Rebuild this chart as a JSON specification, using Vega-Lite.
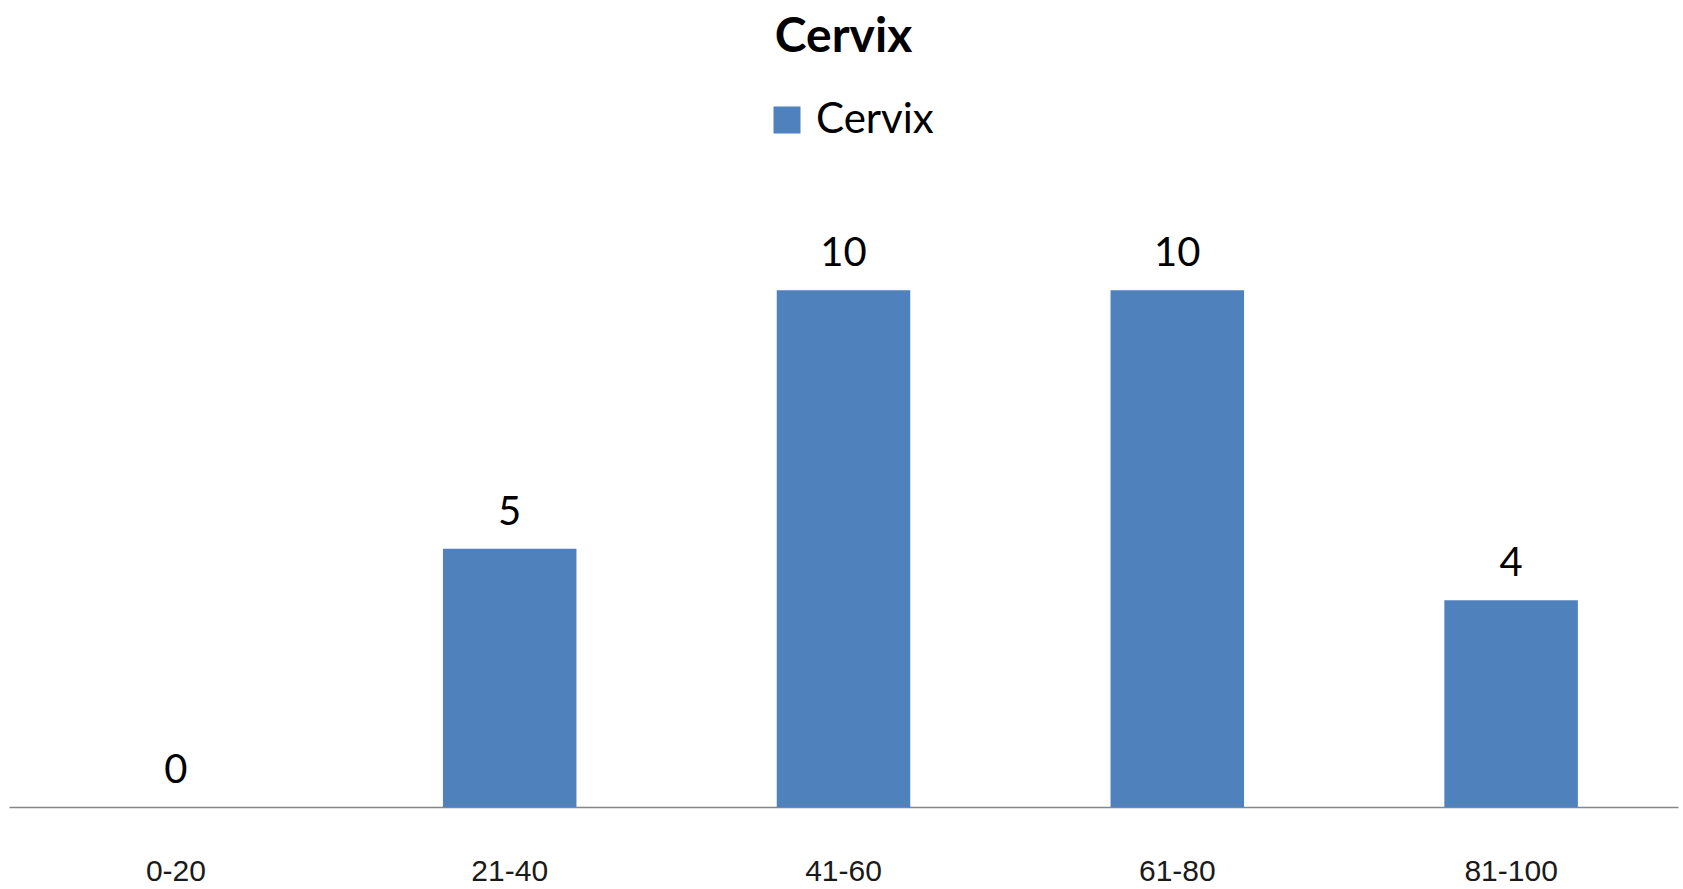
{
  "$schema": "https://vega.github.io/schema/vega-lite/v6.json",
  "autosize": "none",
  "width": 1669,
  "height": 620,
  "padding": {"left": 9, "top": 187, "right": 5, "bottom": 82},
  "background": "white",
  "title": {
    "text": "Cervix",
    "font": "Lato",
    "fontSize": 48,
    "fontWeight": "bold",
    "color": "#000000",
    "anchor": "middle",
    "offset": 37
  },
  "data": {
    "values": [
      {"age": "0-20", "count": 0, "series": "Cervix"},
      {"age": "21-40", "count": 5, "series": "Cervix"},
      {"age": "41-60", "count": 10, "series": "Cervix"},
      {"age": "61-80", "count": 10, "series": "Cervix"},
      {"age": "81-100", "count": 4, "series": "Cervix"}
    ]
  },
  "encoding": {
    "x": {
      "field": "age",
      "type": "nominal",
      "sort": null,
      "scale": {"paddingInner": 0.6, "paddingOuter": 0.3},
      "axis": {
        "title": null,
        "labelAngle": 0,
        "ticks": false,
        "tickSize": 0,
        "domainColor": "#868686",
        "domainWidth": 1.5,
        "labelFont": "Liberation Sans",
        "labelFontSize": 30,
        "labelColor": "#1a1a1a",
        "labelBaseline": "alphabetic",
        "labelPadding": 73,
        "grid": false
      }
    },
    "y": {
      "field": "count",
      "type": "quantitative",
      "scale": {"domain": [0, 12], "nice": false},
      "axis": null
    }
  },
  "layer": [
    {
      "mark": {"type": "bar"},
      "encoding": {
        "color": {
          "field": "series",
          "type": "nominal",
          "scale": {"range": ["#4F81BD"]},
          "legend": {
            "title": null,
            "orient": "none",
            "legendX": 757,
            "legendY": -88,
            "symbolType": "square",
            "symbolSize": 729,
            "symbolStrokeWidth": 0,
            "labelFont": "Lato",
            "labelFontSize": 42,
            "labelColor": "#000000",
            "labelOffset": 8
          }
        }
      }
    },
    {
      "mark": {
        "type": "text",
        "baseline": "alphabetic",
        "dy": -24,
        "font": "Lato",
        "fontSize": 40,
        "color": "#000000"
      },
      "encoding": {
        "text": {"field": "count", "type": "quantitative"}
      }
    }
  ],
  "config": {
    "view": {"stroke": null}
  }
}
